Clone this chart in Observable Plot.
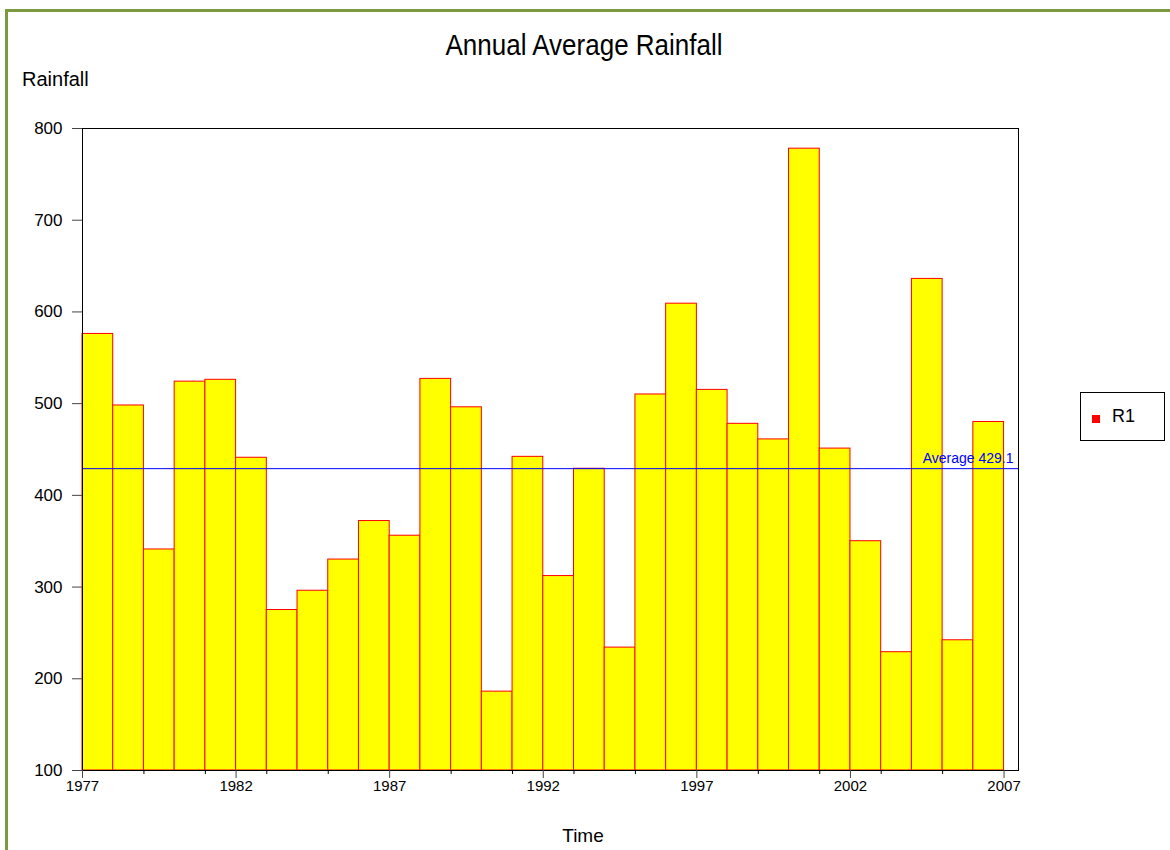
<!DOCTYPE html>
<html>
<head>
<meta charset="utf-8">
<script src="https://cdn.jsdelivr.net/npm/d3@7"></script>
<script src="https://cdn.jsdelivr.net/npm/@observablehq/plot@0.6"></script>
<style>
  html, body { margin: 0; padding: 0; background: #fff; overflow: hidden; }
  #wrap { position: relative; width: 1170px; height: 850px; font-family: "Liberation Sans", Arial, sans-serif; color: #000; }
  #border { position: absolute; left: 5px; top: 9px; width: 1300px; height: 1000px; border-left: 3px solid #7b9a3f; border-top: 3px solid #7b9a3f; }
  #chart { position: absolute; left: 0; top: 0; }
  .lbl { position: absolute; white-space: nowrap; }
  #title { left: 0; width: 1168px; text-align: center; top: 28px; font-size: 26px; transform: scaleY(1.12); transform-origin: center top; }
  #ylab { left: 22px; top: 68px; font-size: 20px; }
  #xlab { left: 0; width: 1166px; text-align: center; top: 825px; font-size: 19px; }
  #legend { position: absolute; left: 1080px; top: 392px; width: 85px; height: 49px; border: 1px solid #000; box-sizing: border-box; }
  #legend .sw { position: absolute; left: 11px; top: 22px; width: 8px; height: 8px; background: #ff0000; }
  #legend .tx { position: absolute; left: 31px; top: 13px; font-size: 18px; }
</style>
</head>
<body>
<div id="wrap">
  <div id="border"></div>
  <div id="chart"></div>
  <div class="lbl" id="title">Annual Average Rainfall</div>
  <div class="lbl" id="ylab">Rainfall</div>
  <div class="lbl" id="xlab">Time</div>
  <div id="legend"><div class="sw"></div><div class="tx">R1</div></div>
</div>
<script>
const years = [1977,1978,1979,1980,1981,1982,1983,1984,1985,1986,1987,1988,1989,1990,1991,1992,1993,1994,1995,1996,1997,1998,1999,2000,2001,2002,2003,2004,2005,2006];
const rainfall = [576,498,341,524,526,441,275,296,330,372,356,527,496,186,442,312,429,234,510,609,515,478,461,778,451,350,229,636,242,480];
const average = 429.1;
const xMajorTicks = [1977,1982,1987,1992,1997,2002,2007];
const xMinorTicks = [1979,1981,1983,1985,1989,1991,1993,1995,1999,2001,2003,2005];
const yTicks = [100,200,300,400,500,600,700,800];

const data = years.map((y, i) => ({year: y, value: rainfall[i]}));
const xMax = 2007.47;

const chart = Plot.plot({
  width: 1170,
  height: 850,
  marginLeft: 82,
  marginRight: 152,
  marginTop: 128,
  marginBottom: 80,
  style: {fontFamily: '"Liberation Sans", Arial, sans-serif', background: "transparent", color: "#000"},
  x: {domain: [1977, xMax]},
  y: {domain: [100, 800]},
  marks: [
    Plot.rect(data, {x1: "year", x2: d => d.year + 1, y1: 100, y2: "value", fill: "#ffff00", stroke: "#ff0000", strokeWidth: 1}),
    Plot.ruleY([average], {stroke: "#0000ff", strokeWidth: 1}),
    Plot.text([average], {x: xMax, y: d => d, text: d => `Average ${d}`, textAnchor: "end", lineAnchor: "bottom", dx: -5, dy: -6, fill: "#0000ff", fontSize: 14}),
    Plot.frame({stroke: "#000", strokeWidth: 1}),
    Plot.axisY({ticks: yTicks, tickSize: 10, tickPadding: 10, fontSize: 17, label: null, stroke: "#444", fill: "#000"}),
    Plot.axisX({ticks: xMajorTicks, tickSize: 8, tickPadding: 2, fontSize: 15, label: null, tickFormat: d => String(d), stroke: "#444", fill: "#000"}),
    Plot.axisX({ticks: xMinorTicks, tickSize: 4, text: null, label: null, stroke: "#000"})
  ]
});
document.getElementById("chart").appendChild(chart);
</script>
</body>
</html>
